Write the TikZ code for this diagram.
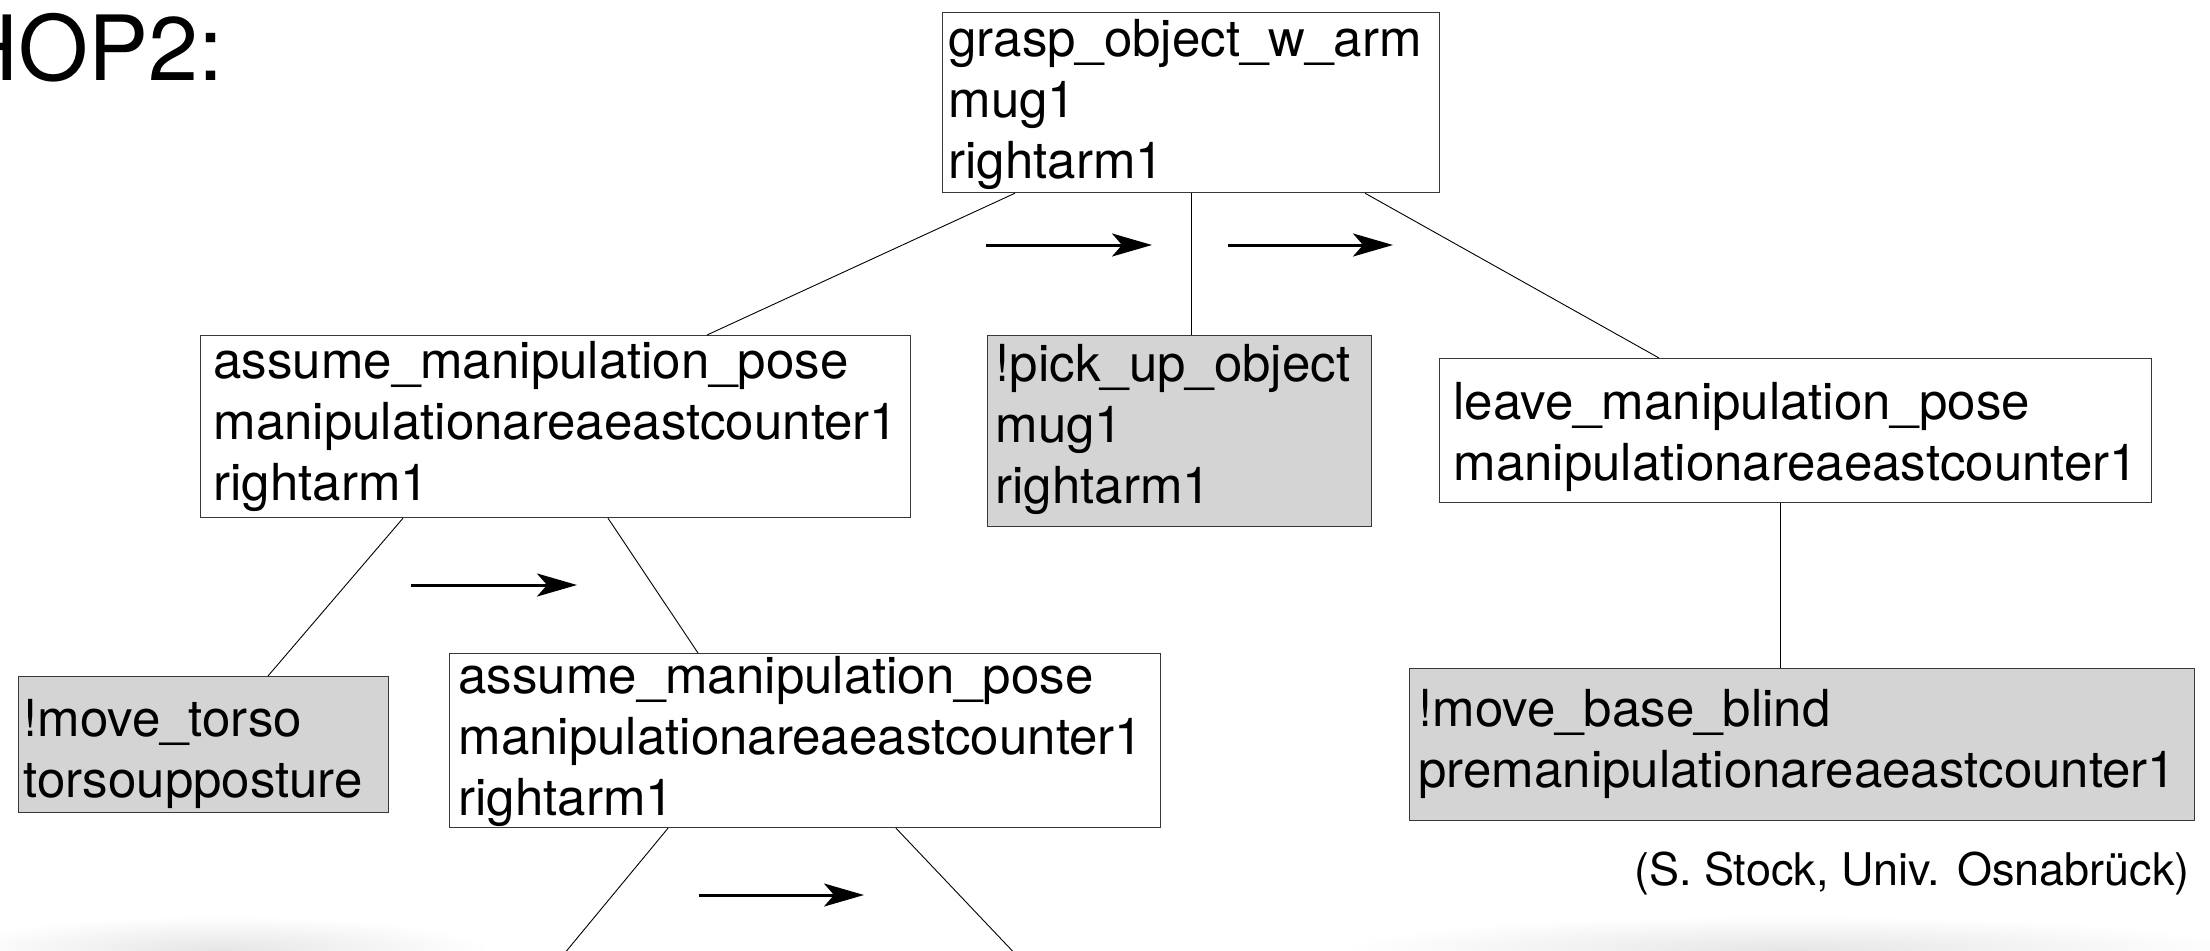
\documentclass[tikz,border=0pt]{standalone}
\usepackage{fontspec}
\setmainfont{TeX Gyre Heros}
\usetikzlibrary{arrows.meta,calc}
\newlength\bw
\newlength\bp
\newcommand\bl[1]{\hbox to \bw{\hskip\bp\relax #1\hss}}
\newcommand\blk[3]{\setlength\bw{#1pt}\setlength\bp{#2pt}\vbox{\fontsize{51}{61}\selectfont #3}}
\tikzset{
  taskbox/.style={draw=black!78, line width=1.2pt, inner sep=0pt, anchor=north west},
  primbox/.style={taskbox, fill=black!17},
  edgeline/.style={draw=black, line width=0.9pt},
  order/.style={line width=3pt, -{Stealth[length=40pt,width=23pt,inset=10pt]}},
}
\begin{document}
\begin{tikzpicture}[x=1pt,y=-1pt]
\useasboundingbox (0,0) rectangle (2210,950);
\clip (0,0) rectangle (2210,950);
% faint reflections at the bottom
\shade[inner color=black!10, outer color=white] (220,950) ellipse [x radius=270pt, y radius=34pt];
\shade[inner color=black!10, outer color=white] (1790,950) ellipse [x radius=450pt, y radius=34pt];

\node[anchor=base west, inner sep=0pt, font=\fontsize{90}{104}\selectfont] (title) at (-47,80) {HOP2:};

\node[taskbox, text height=166pt, text depth=14pt] (b1) at (942,12)
  {\blk{497}{6}{\bl{grasp\_object\_w\_arm}\bl{mug1}\bl{rightarm1}}};
\node[taskbox, text height=165pt, text depth=17pt] (b2) at (200,335)
  {\blk{710}{13}{\bl{assume\_manipulation\_pose}\bl{manipulationareaeastcounter1}\bl{rightarm1}}};
\node[primbox, text height=168pt, text depth=23pt] (b3) at (987,335)
  {\blk{384}{8}{\bl{!pick\_up\_object}\bl{mug1}\bl{rightarm1}}};
\node[taskbox, text height=122pt, text depth=22pt] (b4) at (1439,358)
  {\blk{712}{14}{\bl{leave\_manipulation\_pose}\bl{manipulationareaeastcounter1}}};
\node[primbox, text height=121pt, text depth=15pt] (b5) at (18,676)
  {\blk{370}{5}{\bl{!move\_torso}\bl{torsoupposture}}};
\node[taskbox, text height=162pt, text depth=12pt] (b6) at (449,653)
  {\blk{711}{9}{\bl{assume\_manipulation\_pose}\bl{manipulationareaeastcounter1}\bl{rightarm1}}};
\node[primbox, text height=119pt, text depth=33pt] (b7) at (1409,668)
  {\blk{785}{9}{\bl{!move\_base\_blind}\bl{premanipulationareaeastcounter1}}};

\node[anchor=base east, inner sep=0pt, font=\fontsize{45}{53}\selectfont] (cred) at (2190,885) {(S. Stock, Univ. Osnabr\"uck)};

% tree edges
\draw[edgeline] ($(b1.south west)+(73,0)$) -- ($(b2.north west)+(507,0)$);
\draw[edgeline] ($(b1.south west)+(249,0)$) -- ($(b3.north west)+(204,0)$);
\draw[edgeline] ($(b1.south west)+(423,0)$) -- ($(b4.north west)+(220,0)$);
\draw[edgeline] ($(b2.south west)+(203,0)$) -- ($(b5.north west)+(250,0)$);
\draw[edgeline] ($(b2.south west)+(408,0)$) -- ($(b6.north west)+(249,0)$);
\draw[edgeline] ($(b4.south west)+(341,0)$) -- ($(b7.north west)+(371,0)$);
\coordinate (c7) at (559,960);
\coordinate (c8) at (1021,960);
\draw[edgeline] ($(b6.south west)+(219,0)$) -- (c7);
\draw[edgeline] ($(b6.south west)+(447,0)$) -- (c8);

% ordering arrows
\coordinate (a1s) at (986,245); \coordinate (a1e) at (1152,245);
\coordinate (a2s) at (1228,245); \coordinate (a2e) at (1393,245);
\coordinate (a3s) at (411,585); \coordinate (a3e) at (577,585);
\coordinate (a4s) at (699,895); \coordinate (a4e) at (864,895);
\draw[order] (a1s) -- (a1e);
\draw[order] (a2s) -- (a2e);
\draw[order] (a3s) -- (a3e);
\draw[order] (a4s) -- (a4e);
\end{tikzpicture}
\end{document}
